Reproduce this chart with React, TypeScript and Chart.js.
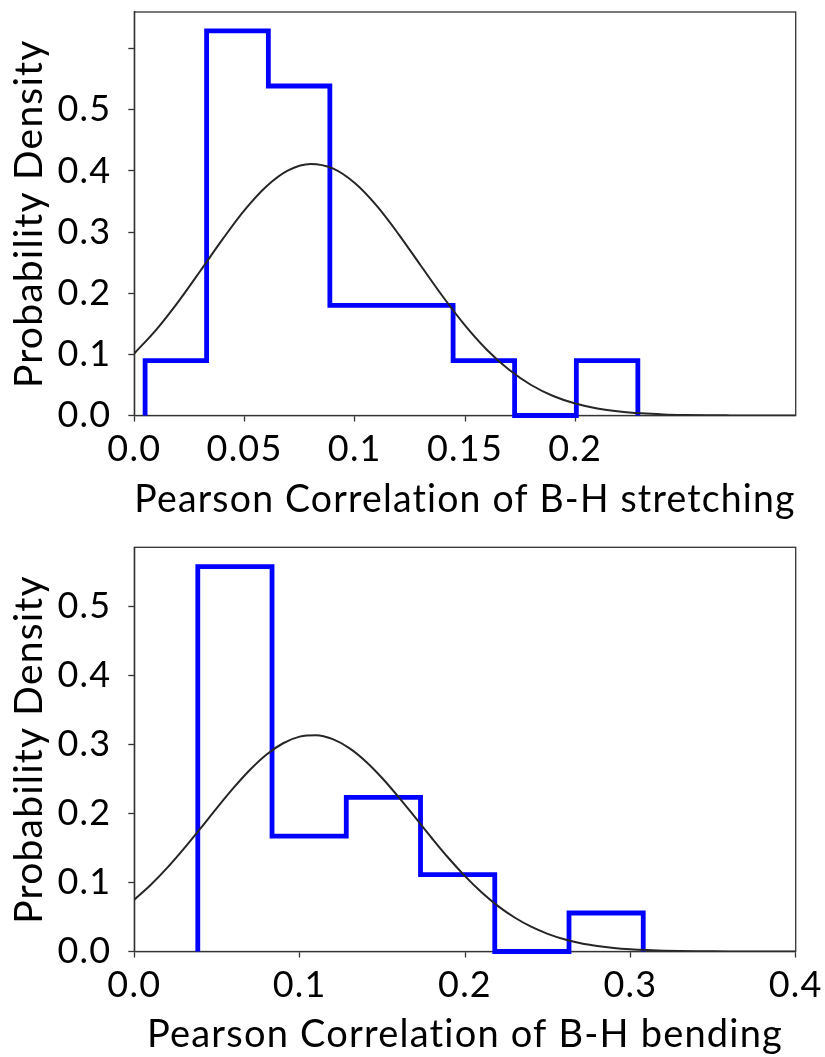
import React, { useEffect, useRef } from 'react';
import { Chart, registerables } from 'chart.js';

Chart.register(...registerables);

const FONT = 'Lato';

// ---------- Top panel: B-H stretching ----------
const topEdges = [0.0049, 0.0328, 0.0608, 0.0887, 0.1167, 0.1446, 0.1725, 0.2005, 0.2284];
const topDensity = [0.0899, 0.629, 0.539, 0.18, 0.18, 0.0899, 0, 0.0899];
const topFitX = [0, 0.01, 0.02, 0.03, 0.04, 0.05, 0.06, 0.07, 0.08, 0.09, 0.1, 0.11, 0.12, 0.13, 0.14, 0.15, 0.16, 0.17, 0.18, 0.19, 0.2, 0.21, 0.22, 0.23, 0.24, 0.25, 0.26, 0.27, 0.28, 0.29, 0.3];
const topFitY = [0.1015, 0.1405, 0.1863, 0.2367, 0.288, 0.3358, 0.375, 0.4013, 0.4114, 0.4041, 0.3802, 0.3428, 0.296, 0.2449, 0.1942, 0.1474, 0.1072, 0.0748, 0.0499, 0.0319, 0.0196, 0.0115, 0.0065, 0.0035, 0.0018, 0.0009, 0.0004, 0.0002, 0.0001, 0, 0];
const topXTicks = [0, 0.05, 0.1, 0.15, 0.2];
const topXLabels = ['0.0', '0.05', '0.1', '0.15', '0.2'];
const topYTicks = [0, 0.1, 0.2, 0.3, 0.4, 0.5, 0.6];
const topYLabels = ['0.0', '0.1', '0.2', '0.3', '0.4', '0.5', ''];
const topXTitle = 'Pearson Correlation of B-H stretching';

// ---------- Bottom panel: B-H bending ----------
const botEdges = [0.0384, 0.0833, 0.1282, 0.1731, 0.218, 0.2629, 0.3078];
const botDensity = [0.557, 0.167, 0.223, 0.1114, 0, 0.0557];
const botFitX = [0, 0.01, 0.02, 0.03, 0.04, 0.05, 0.06, 0.07, 0.08, 0.09, 0.1, 0.11, 0.12, 0.13, 0.14, 0.15, 0.16, 0.17, 0.18, 0.19, 0.2, 0.21, 0.22, 0.23, 0.24, 0.25, 0.26, 0.27, 0.28, 0.29, 0.3, 0.31, 0.32, 0.33, 0.34, 0.35, 0.36, 0.37, 0.38, 0.39, 0.4];
const botFitY = [0.0749, 0.0965, 0.1213, 0.1488, 0.1781, 0.2079, 0.2367, 0.263, 0.2851, 0.3014, 0.311, 0.313, 0.3073, 0.2944, 0.2751, 0.2508, 0.2231, 0.1936, 0.1639, 0.1353, 0.1091, 0.0857, 0.0657, 0.0492, 0.0359, 0.0256, 0.0178, 0.012, 0.008, 0.0051, 0.0032, 0.002, 0.0012, 0.0007, 0.0004, 0.0002, 0.0001, 0.0001, 0, 0, 0];
const botXTicks = [0, 0.1, 0.2, 0.3, 0.4];
const botXLabels = ['0.0', '0.1', '0.2', '0.3', '0.4'];
const botYTicks = [0, 0.1, 0.2, 0.3, 0.4, 0.5];
const botYLabels = ['0.0', '0.1', '0.2', '0.3', '0.4', '0.5'];
const botXTitle = 'Pearson Correlation of B-H bending';

const yTitle = 'Probability Density';

function stepOutline(edges: number[], heights: number[]) {
  const pts: { x: number; y: number }[] = [{ x: edges[0], y: 0 }];
  heights.forEach((h, i) => {
    pts.push({ x: edges[i], y: h });
    pts.push({ x: edges[i + 1], y: h });
  });
  pts.push({ x: edges[edges.length - 1], y: 0 });
  return pts;
}

const framePlugin = {
  id: 'frame',
  beforeUpdate(chart: any) {
    chart.ctx.letterSpacing = '1.2px';
  },
  beforeDraw(chart: any) {
    chart.ctx.letterSpacing = '1.2px';
  },
  beforeDatasetsDraw(chart: any) {
    const { ctx, chartArea } = chart;
    const { left, top, right, bottom } = chartArea;
    ctx.save();
    ctx.strokeStyle = '#333333';
    ctx.lineWidth = 1.3;
    ctx.strokeRect(left, top, right - left, bottom - top);
    ctx.restore();
  },
};

type PanelProps = {
  height: number;
  edges: number[];
  density: number[];
  fitX: number[];
  fitY: number[];
  xMax: number;
  yMax: number;
  xTicks: number[];
  xLabels: string[];
  yTicks: number[];
  yLabels: string[];
  xTitle: string;
  padTop: number;
  xAxisH: number;
  xTitlePadBottom: number;
};

function Panel(p: PanelProps) {
  const ref = useRef<HTMLCanvasElement | null>(null);
  useEffect(() => {
    if (!ref.current) return;
    const chart = new Chart(ref.current, {
      type: 'line',
      data: {
        datasets: [
          {
            label: 'fit',
            data: p.fitX.map((x, i) => ({ x, y: p.fitY[i] })),
            borderColor: '#262626',
            borderWidth: 2,
            pointRadius: 0,
            cubicInterpolationMode: 'monotone',
            fill: false,
            order: 0,
          },
          {
            label: 'hist',
            data: stepOutline(p.edges, p.density),
            borderColor: '#0000ff',
            borderWidth: 4.8,
            pointRadius: 0,
            tension: 0,
            borderJoinStyle: 'miter',
            borderCapStyle: 'butt',
            fill: false,
            clip: false,
            order: 1,
          },
        ],
      } as any,
      options: {
        responsive: false,
        animation: false,
        devicePixelRatio: 1,
        layout: { padding: { top: p.padTop, right: 29.3, left: 0, bottom: 0 } },
        plugins: { legend: { display: false }, tooltip: { enabled: false } },
        scales: {
          x: {
            type: 'linear',
            min: 0,
            max: p.xMax,
            afterBuildTicks: (s: any) => {
              s.ticks = p.xTicks.map((v) => ({ value: v }));
            },
            afterFit: (s: any) => {
              s.height = p.xAxisH;
              s.paddingLeft = 0;
              s.paddingRight = 0;
            },
            ticks: {
              callback: (_v: any, i: number) => p.xLabels[i],
              font: { family: FONT, size: 36 },
              color: '#000',
              padding: 6,
              maxRotation: 0,
              autoSkip: false,
            },
            grid: {
              drawOnChartArea: false,
              drawTicks: true,
              tickLength: 6,
              tickColor: '#333333',
              tickWidth: 1.3,
            },
            border: { display: true, color: '#333333', width: 1.3 },
            title: {
              display: true,
              text: p.xTitle,
              font: { family: FONT, size: 38, lineHeight: 1.2 },
              color: '#000',
              padding: { top: 0, bottom: p.xTitlePadBottom },
            },
          },
          y: {
            type: 'linear',
            min: 0,
            max: p.yMax,
            afterBuildTicks: (s: any) => {
              s.ticks = p.yTicks.map((v) => ({ value: v }));
            },
            afterFit: (s: any) => {
              s.width = 134.3;
              s.paddingTop = 0;
              s.paddingBottom = 0;
            },
            ticks: {
              callback: (_v: any, i: number) => p.yLabels[i],
              font: { family: FONT, size: 36 },
              color: '#000',
              padding: 17,
              autoSkip: false,
            },
            grid: {
              drawOnChartArea: false,
              drawTicks: true,
              tickLength: 6,
              tickColor: '#333333',
              tickWidth: 1.3,
            },
            border: { display: true, color: '#333333', width: 1.3 },
            title: {
              display: true,
              text: yTitle,
              font: { family: FONT, size: 39, lineHeight: 1.2 },
              color: '#000',
              padding: { top: 5.6, bottom: 0 },
            },
          },
        },
      } as any,
      plugins: [framePlugin],
    });
    return () => chart.destroy();
  }, []);
  return <canvas ref={ref} width={825} height={p.height} style={{ display: 'block' }} />;
}

export default function App() {
  return (
    <div style={{ position: 'absolute', left: 0, top: 0, width: 825, height: 1057, background: '#fff', overflow: 'hidden' }}>
      <div style={{ position: 'absolute', left: 0, top: 0 }}>
        <Panel
          height={530}
          edges={topEdges}
          density={topDensity}
          fitX={topFitX}
          fitY={topFitY}
          xMax={0.3}
          yMax={0.66}
          xTicks={topXTicks}
          xLabels={topXLabels}
          yTicks={topYTicks}
          yLabels={topYLabels}
          xTitle={topXTitle}
          padTop={12}
          xAxisH={114.5}
          xTitlePadBottom={7.2}
        />
      </div>
      <div style={{ position: 'absolute', left: 0, top: 530 }}>
        <Panel
          height={527}
          edges={botEdges}
          density={botDensity}
          fitX={botFitX}
          fitY={botFitY}
          xMax={0.4}
          yMax={0.585}
          xTicks={botXTicks}
          xLabels={botXLabels}
          yTicks={botYTicks}
          yLabels={botYLabels}
          xTitle={botXTitle}
          padTop={17.3}
          xAxisH={105.5}
          xTitlePadBottom={-1}
        />
      </div>
    </div>
  );
}
